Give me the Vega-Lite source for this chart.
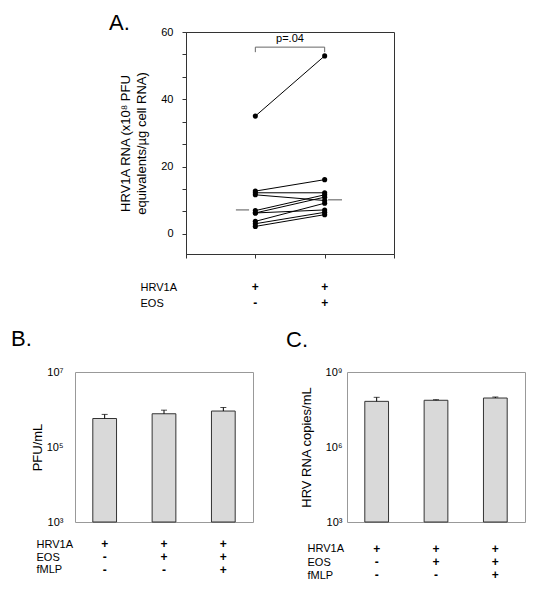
{
  "$schema": "https://vega.github.io/schema/vega-lite/v6.json",
  "padding": {"left": 10, "top": 11, "right": 5, "bottom": 5},
  "config": {
    "font": "Liberation Sans",
    "view": {"stroke": null},
    "title": {"font": "Liberation Sans", "fontSize": 22, "fontWeight": "normal", "anchor": "start", "frame": "group", "color": "#000", "baseline": "alphabetic"},
    "axis": {"labelFont": "Liberation Sans", "titleFont": "Liberation Sans", "labelColor": "#000", "titleColor": "#000", "titleFontWeight": "normal", "grid": false, "labelOverlap": false},
    "text": {"font": "Liberation Sans"}
  },
  "datasets": {
    "donors": [
      {"donor": 1, "cond": 1, "value": 35.0}, {"donor": 1, "cond": 2, "value": 52.9},
      {"donor": 2, "cond": 1, "value": 12.7}, {"donor": 2, "cond": 2, "value": 16.1},
      {"donor": 3, "cond": 1, "value": 12.2}, {"donor": 3, "cond": 2, "value": 12.2},
      {"donor": 4, "cond": 1, "value": 11.6}, {"donor": 4, "cond": 2, "value": 9.9},
      {"donor": 5, "cond": 1, "value": 6.9}, {"donor": 5, "cond": 2, "value": 11.6},
      {"donor": 6, "cond": 1, "value": 6.2}, {"donor": 6, "cond": 2, "value": 10.9},
      {"donor": 7, "cond": 1, "value": 6.2}, {"donor": 7, "cond": 2, "value": 7.1},
      {"donor": 8, "cond": 1, "value": 3.7}, {"donor": 8, "cond": 2, "value": 9.1},
      {"donor": 9, "cond": 1, "value": 3.0}, {"donor": 9, "cond": 2, "value": 6.4},
      {"donor": 10, "cond": 1, "value": 2.2}, {"donor": 10, "cond": 2, "value": 5.7}
    ],
    "medians": [
      {"cond": 1, "from": 0.72, "to": 0.91, "median": 7.1},
      {"cond": 2, "from": 2.05, "to": 2.25, "median": 10.1}
    ],
    "bracket": [
      {"x": 1, "x2": 1, "y": 54, "y2": 55.5},
      {"x": 1, "x2": 2, "y": 55.5, "y2": 55.5},
      {"x": 2, "x2": 2, "y": 54, "y2": 55.5}
    ],
    "pval": [{"x": 1.5, "y": 58, "label": "p=.04"}],
    "tabA": [
      {"cond": 1, "factor": "HRV1A", "sign": "+"}, {"cond": 2, "factor": "HRV1A", "sign": "+"},
      {"cond": 1, "factor": "EOS", "sign": "-"}, {"cond": 2, "factor": "EOS", "sign": "+"}
    ],
    "pfu": [
      {"cond": "HRV1A", "mean": 575000, "upper": 740000},
      {"cond": "HRV1A+EOS", "mean": 770000, "upper": 960000},
      {"cond": "HRV1A+EOS+fMLP", "mean": 910000, "upper": 1130000}
    ],
    "rna": [
      {"cond": "HRV1A", "mean": 67000000, "upper": 97000000},
      {"cond": "HRV1A+EOS", "mean": 74000000, "upper": 78000000},
      {"cond": "HRV1A+EOS+fMLP", "mean": 91000000, "upper": 100000000}
    ],
    "tabBC": [
      {"cond": "HRV1A", "factor": "HRV1A", "sign": "+"},
      {"cond": "HRV1A+EOS", "factor": "HRV1A", "sign": "+"},
      {"cond": "HRV1A+EOS+fMLP", "factor": "HRV1A", "sign": "+"},
      {"cond": "HRV1A", "factor": "EOS", "sign": "-"},
      {"cond": "HRV1A+EOS", "factor": "EOS", "sign": "+"},
      {"cond": "HRV1A+EOS+fMLP", "factor": "EOS", "sign": "+"},
      {"cond": "HRV1A", "factor": "fMLP", "sign": "-"},
      {"cond": "HRV1A+EOS", "factor": "fMLP", "sign": "-"},
      {"cond": "HRV1A+EOS+fMLP", "factor": "fMLP", "sign": "+"}
    ]
  },
  "spacing": 16,
  "vconcat": [
    {
      "spacing": 0,
      "hconcat": [
        {"width": 33, "height": 10, "data": {"values": []}, "mark": "point"},
        {
          "spacing": 20,
          "vconcat": [
            {
              "width": 208,
              "height": 222,
              "title": {"text": "A.", "dx": -77, "dy": 5, "offset": -4},
              "view": {"stroke": "#333", "strokeWidth": 1},
              "layer": [
                {
                  "data": {"name": "donors"},
                  "mark": {"type": "line", "color": "#000", "strokeWidth": 1},
                  "encoding": {
                    "x": {"field": "cond", "type": "quantitative", "scale": {"domain": [0, 3], "nice": false, "zero": false},
                      "axis": {"values": [0, 1, 2, 3], "tickCount": 20, "labels": false, "tickSize": 4, "domainColor": "#333", "tickColor": "#333", "title": null}},
                    "y": {"field": "value", "type": "quantitative", "scale": {"domain": [-6, 60], "nice": false, "zero": false},
                      "axis": {"values": [0, 6.667, 13.333, 20, 26.667, 33.333, 40, 46.667, 53.333, 60], "tickCount": 40,
                        "labelExpr": "abs(datum.value - round(datum.value / 20) * 20) < 0.01 ? format(datum.value, 'd') : ''",
                        "labelOverlap": false, "labelFlush": false, "labelBound": false,
                        "tickSize": 4, "labelPadding": 9, "labelFontSize": 11, "domainColor": "#333", "tickColor": "#333",
                        "title": ["HRV1A RNA (x10⁸ PFU", "equivalents/µg cell RNA)"], "titleFontSize": 13, "titleLineHeight": 16, "titlePadding": 12}},
                    "detail": {"field": "donor", "type": "nominal"}
                  }
                },
                {
                  "data": {"name": "donors"},
                  "mark": {"type": "point", "filled": true, "color": "#000", "size": 26, "opacity": 1},
                  "encoding": {
                    "x": {"field": "cond", "type": "quantitative"},
                    "y": {"field": "value", "type": "quantitative"}
                  }
                },
                {
                  "data": {"name": "medians"},
                  "mark": {"type": "rule", "color": "#555", "strokeWidth": 1},
                  "encoding": {
                    "x": {"field": "from", "type": "quantitative"},
                    "x2": {"field": "to"},
                    "y": {"field": "median", "type": "quantitative"}
                  }
                },
                {
                  "data": {"name": "bracket"},
                  "mark": {"type": "rule", "color": "#666", "strokeWidth": 1},
                  "encoding": {
                    "x": {"field": "x", "type": "quantitative"},
                    "x2": {"field": "x2"},
                    "y": {"field": "y", "type": "quantitative"},
                    "y2": {"field": "y2"}
                  }
                },
                {
                  "data": {"name": "pval"},
                  "mark": {"type": "text", "fontSize": 11, "color": "#000"},
                  "encoding": {
                    "x": {"field": "x", "type": "quantitative"},
                    "y": {"field": "y", "type": "quantitative"},
                    "text": {"field": "label"}
                  }
                }
              ]
            },
            {
              "width": 208,
              "height": 32,
              "data": {"name": "tabA"},
              "mark": {"type": "text", "fontSize": 12, "fontWeight": "bold", "color": "#000"},
              "encoding": {
                "x": {"field": "cond", "type": "quantitative", "scale": {"domain": [0, 3], "nice": false, "zero": false}, "axis": null},
                "y": {"field": "factor", "type": "nominal", "sort": ["HRV1A", "EOS"], "scale": {"type": "point", "padding": 0.5},
                  "axis": {"domain": false, "ticks": false, "labelAlign": "left", "labelPadding": 46, "labelFontSize": 11, "title": null}},
                "text": {"field": "sign"}
              }
            }
          ]
        }
      ]
    },
    {
      "spacing": 31,
      "hconcat": [
        {
          "spacing": 10,
          "vconcat": [
            {
              "width": 178,
              "height": 150,
              "title": {"text": "B.", "dx": -64, "offset": 15},
              "view": {"stroke": "#999", "strokeWidth": 1},
              "data": {"name": "pfu"},
              "encoding": {
                "x": {"field": "cond", "type": "nominal", "sort": ["HRV1A", "HRV1A+EOS", "HRV1A+EOS+fMLP"], "scale": {"paddingInner": 0.6, "paddingOuter": 0.3}, "axis": null}
              },
              "layer": [
                {
                  "mark": {"type": "bar", "fill": "#d9d9d9", "stroke": "#333", "strokeWidth": 1},
                  "encoding": {
                    "y": {"field": "mean", "type": "quantitative", "scale": {"type": "log", "domain": [1000, 10000000], "nice": false},
                      "axis": {"values": [1000, 100000, 10000000], "tickCount": 20,
                        "labelExpr": "'10' + ['⁰','¹','²','³','⁴','⁵','⁶','⁷','⁸','⁹'][round(log(datum.value) / LN10)]",
                        "domain": false, "ticks": false, "labelPadding": 12, "labelFontSize": 11,
                        "title": "PFU/mL", "titleFontSize": 13, "titlePadding": 2}},
                    "y2": {"datum": 1000}
                  }
                },
                {
                  "mark": {"type": "rule", "color": "#000", "strokeWidth": 1},
                  "encoding": {
                    "y": {"field": "mean", "type": "quantitative"},
                    "y2": {"field": "upper"}
                  }
                },
                {
                  "mark": {"type": "tick", "color": "#000", "size": 6, "thickness": 1},
                  "encoding": {
                    "y": {"field": "upper", "type": "quantitative"}
                  }
                }
              ]
            },
            {
              "width": 178,
              "height": 38,
              "data": {"name": "tabBC"},
              "mark": {"type": "text", "fontSize": 12, "fontWeight": "bold", "color": "#000"},
              "encoding": {
                "x": {"field": "cond", "type": "nominal", "sort": ["HRV1A", "HRV1A+EOS", "HRV1A+EOS+fMLP"], "scale": {"paddingInner": 0.6, "paddingOuter": 0.3}, "axis": null},
                "y": {"field": "factor", "type": "nominal", "sort": ["HRV1A", "EOS", "fMLP"], "scale": {"type": "point", "padding": 0.5},
                  "axis": {"domain": false, "ticks": false, "labelAlign": "left", "labelPadding": 39, "labelFontSize": 11, "title": null}},
                "text": {"field": "sign"}
              }
            }
          ]
        },
        {
          "spacing": 14,
          "vconcat": [
            {
              "width": 178,
              "height": 150,
              "title": {"text": "C.", "dx": -61, "offset": 14},
              "view": {"stroke": "#999", "strokeWidth": 1},
              "data": {"name": "rna"},
              "encoding": {
                "x": {"field": "cond", "type": "nominal", "sort": ["HRV1A", "HRV1A+EOS", "HRV1A+EOS+fMLP"], "scale": {"paddingInner": 0.6, "paddingOuter": 0.3}, "axis": null}
              },
              "layer": [
                {
                  "mark": {"type": "bar", "fill": "#d9d9d9", "stroke": "#333", "strokeWidth": 1},
                  "encoding": {
                    "y": {"field": "mean", "type": "quantitative", "scale": {"type": "log", "domain": [1000, 1000000000], "nice": false},
                      "axis": {"values": [1000, 1000000, 1000000000], "tickCount": 20,
                        "labelExpr": "'10' + ['⁰','¹','²','³','⁴','⁵','⁶','⁷','⁸','⁹'][round(log(datum.value) / LN10)]",
                        "domain": false, "ticks": false, "labelPadding": 5, "labelFontSize": 11,
                        "title": "HRV RNA copies/mL", "titleFontSize": 13, "titlePadding": 12}},
                    "y2": {"datum": 1000}
                  }
                },
                {
                  "mark": {"type": "rule", "color": "#000", "strokeWidth": 1},
                  "encoding": {
                    "y": {"field": "mean", "type": "quantitative"},
                    "y2": {"field": "upper"}
                  }
                },
                {
                  "mark": {"type": "tick", "color": "#000", "size": 6, "thickness": 1},
                  "encoding": {
                    "y": {"field": "upper", "type": "quantitative"}
                  }
                }
              ]
            },
            {
              "width": 178,
              "height": 40,
              "data": {"name": "tabBC"},
              "mark": {"type": "text", "fontSize": 12, "fontWeight": "bold", "color": "#000"},
              "encoding": {
                "x": {"field": "cond", "type": "nominal", "sort": ["HRV1A", "HRV1A+EOS", "HRV1A+EOS+fMLP"], "scale": {"paddingInner": 0.6, "paddingOuter": 0.3}, "axis": null},
                "y": {"field": "factor", "type": "nominal", "sort": ["HRV1A", "EOS", "fMLP"], "scale": {"type": "point", "padding": 0.5},
                  "axis": {"domain": false, "ticks": false, "labelAlign": "left", "labelPadding": 40, "labelFontSize": 11, "title": null}},
                "text": {"field": "sign"}
              }
            }
          ]
        }
      ]
    }
  ]
}
